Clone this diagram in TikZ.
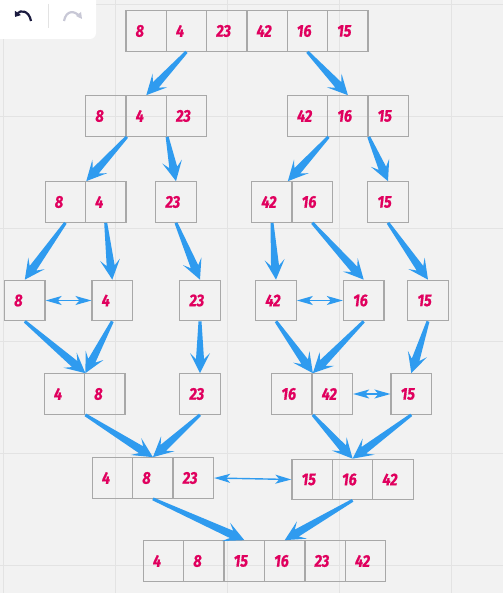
\documentclass[tikz,border=0pt]{standalone}
\usepackage{fontspec}
\setmainfont{Fira Sans}[FakeStretch=0.85, BoldItalicFeatures={FakeBold=0.8}]
\usetikzlibrary{calc,arrows.meta}
\definecolor{bgc}{HTML}{F2F2F2}
\definecolor{gridc}{HTML}{E3E3E3}
\definecolor{boxgray}{HTML}{A8A8A8}
\definecolor{numred}{HTML}{E0005E}
\definecolor{arrowblue}{HTML}{2F9BEF}
\definecolor{icondark}{HTML}{1B1B3F}
\definecolor{iconlight}{HTML}{C8C8D6}
\tikzset{
  cell/.style={draw=boxgray, line width=1.3pt, minimum width=40.4pt, minimum height=40.4pt,
    inner sep=0pt, text width=21pt, align=left,
    font=\fontsize{17}{17}\selectfont\bfseries\itshape, text=numred},
  twoway/.style={draw=arrowblue, line width=1.4pt,
    {Stealth[length=16pt,width=9pt,inset=4pt]}-{Stealth[length=16pt,width=9pt,inset=4pt]}},
}
\newcommand\fatarrow[2]{%
  \coordinate (fan) at ($(#2)!14pt!(#1)$);
  \coordinate (faw) at ($(#2)!20pt!(#1)$);
  \fill[arrowblue] ($(#1)!1.5pt!90:(#2)$) -- ($(fan)!4pt!90:(#2)$) -- ($(faw)!10pt!90:(#2)$)
    -- (#2) -- ($(faw)!10pt!-90:(#2)$) -- ($(fan)!4pt!-90:(#2)$) -- ($(#1)!1.5pt!-90:(#2)$) -- cycle;}
\begin{document}
\begin{tikzpicture}[x=1pt,y=-1pt]
\fill[bgc] (0,0) rectangle (503,593);
\useasboundingbox (0,0) rectangle (503,593);
\foreach \gx in {3,115,227,339,451} \draw[gridc, line width=1pt] (\gx,0) -- (\gx,593);
\foreach \gy in {5,117,229,341,453,565} \draw[gridc, line width=1pt] (0,\gy) -- (503,\gy);

% toolbar
\fill[white, rounded corners=6pt] (-10,-10) rectangle (96,39);
\draw[gridc, line width=1pt] (48,4) -- (48,28);
\draw[icondark, line width=2.2pt, -{Triangle[length=5pt,width=7pt]}] (31,21) .. controls (29,10) and (20,10) .. (15,17);
\draw[iconlight, line width=2.2pt] (64,21) .. controls (66,10) and (75,10) .. (80,17);
\fill[iconlight] (82,19) -- (76,16) -- (81,12) -- cycle;

% row 1
\node[cell] (a1) at (146.2,31) {8};
\node[cell] (a2) at (186.5,31) {4};
\node[cell] (a3) at (226.8,31) {23};
\node[cell] (a4) at (267.1,31) {42};
\node[cell] (a5) at (307.4,31) {16};
\node[cell] (a6) at (347.7,31) {15};
% row 2
\node[cell] (b1) at (106,116) {8};
\node[cell] (b2) at (146.3,116) {4};
\node[cell] (b3) at (186.6,116) {23};
\node[cell] (c1) at (307.6,116) {42};
\node[cell] (c2) at (347.9,116) {16};
\node[cell] (c3) at (388.2,116) {15};
% row 3
\node[cell] (d1) at (65.4,202) {8};
\node[cell] (d2) at (105.7,202) {4};
\node[cell] (e1) at (176,202) {23};
\node[cell] (f1) at (272,202) {42};
\node[cell] (f2) at (312.3,202) {16};
\node[cell] (g1) at (388,202) {15};
% row 4
\node[cell] (h) at (24.8,300.5) {8};
\node[cell] (i) at (112.3,300.5) {4};
\node[cell] (j) at (200,300.5) {23};
\node[cell] (k) at (276,300.5) {42};
\node[cell] (l) at (363.7,300.5) {16};
\node[cell] (m) at (428,300.5) {15};
% row 5
\node[cell] (n1) at (64.5,394) {4};
\node[cell] (n2) at (104.8,394) {8};
\node[cell] (o) at (200,394) {23};
\node[cell] (p1) at (292,394) {16};
\node[cell] (p2) at (332.3,394) {42};
\node[cell] (q) at (411.3,394) {15};
% row 6
\node[cell] (r1) at (112.5,478) {4};
\node[cell] (r2) at (152.9,478) {8};
\node[cell] (r3) at (193.3,478) {23};
\node[cell] (s1) at (312.2,479.5) {15};
\node[cell] (s2) at (352.6,479.5) {16};
\node[cell] (s3) at (393,479.5) {42};
% row 7
\node[cell] (t1) at (163.5,561) {4};
\node[cell] (t2) at (203.9,561) {8};
\node[cell] (t3) at (244.3,561) {15};
\node[cell] (t4) at (284.7,561) {16};
\node[cell] (t5) at (325.1,561) {23};
\node[cell] (t6) at (365.5,561) {42};

\coordinate (f1t) at ([xshift=-5pt]f1.north east);

\fatarrow{a2.south}{b2.north}
\fatarrow{a5.south}{c2.north}
\fatarrow{b1.south east}{d1.north east}
\fatarrow{b2.south east}{e1.north}
\fatarrow{c1.south east}{f1t}
\fatarrow{c2.south east}{g1.north}
\fatarrow{d1.south}{h.north}
\fatarrow{d2.south}{i.north}
\fatarrow{e1.south}{j.north}
\fatarrow{f1.south}{k.north}
\fatarrow{f2.south}{l.north}
\fatarrow{g1.south}{m.north}
\fatarrow{h.south}{n1.north east}
\fatarrow{i.south}{n1.north east}
\fatarrow{j.south}{o.north}
\fatarrow{k.south}{p1.north east}
\fatarrow{l.south}{p1.north east}
\fatarrow{m.south}{q.north}
\fatarrow{n1.south east}{r2.north}
\fatarrow{o.south}{r2.north}
\fatarrow{p1.south east}{s2.north}
\fatarrow{q.south}{s2.north}
\fatarrow{r2.south}{t3.north}
\fatarrow{s2.south}{t4.north}

\draw[twoway] (h.east) -- (i.west);
\draw[twoway] (k.east) -- (l.west);
\draw[twoway] (p2.east) -- (q.west);
\draw[twoway] (r3.east) -- (s1.west);
\end{tikzpicture}
\end{document}
